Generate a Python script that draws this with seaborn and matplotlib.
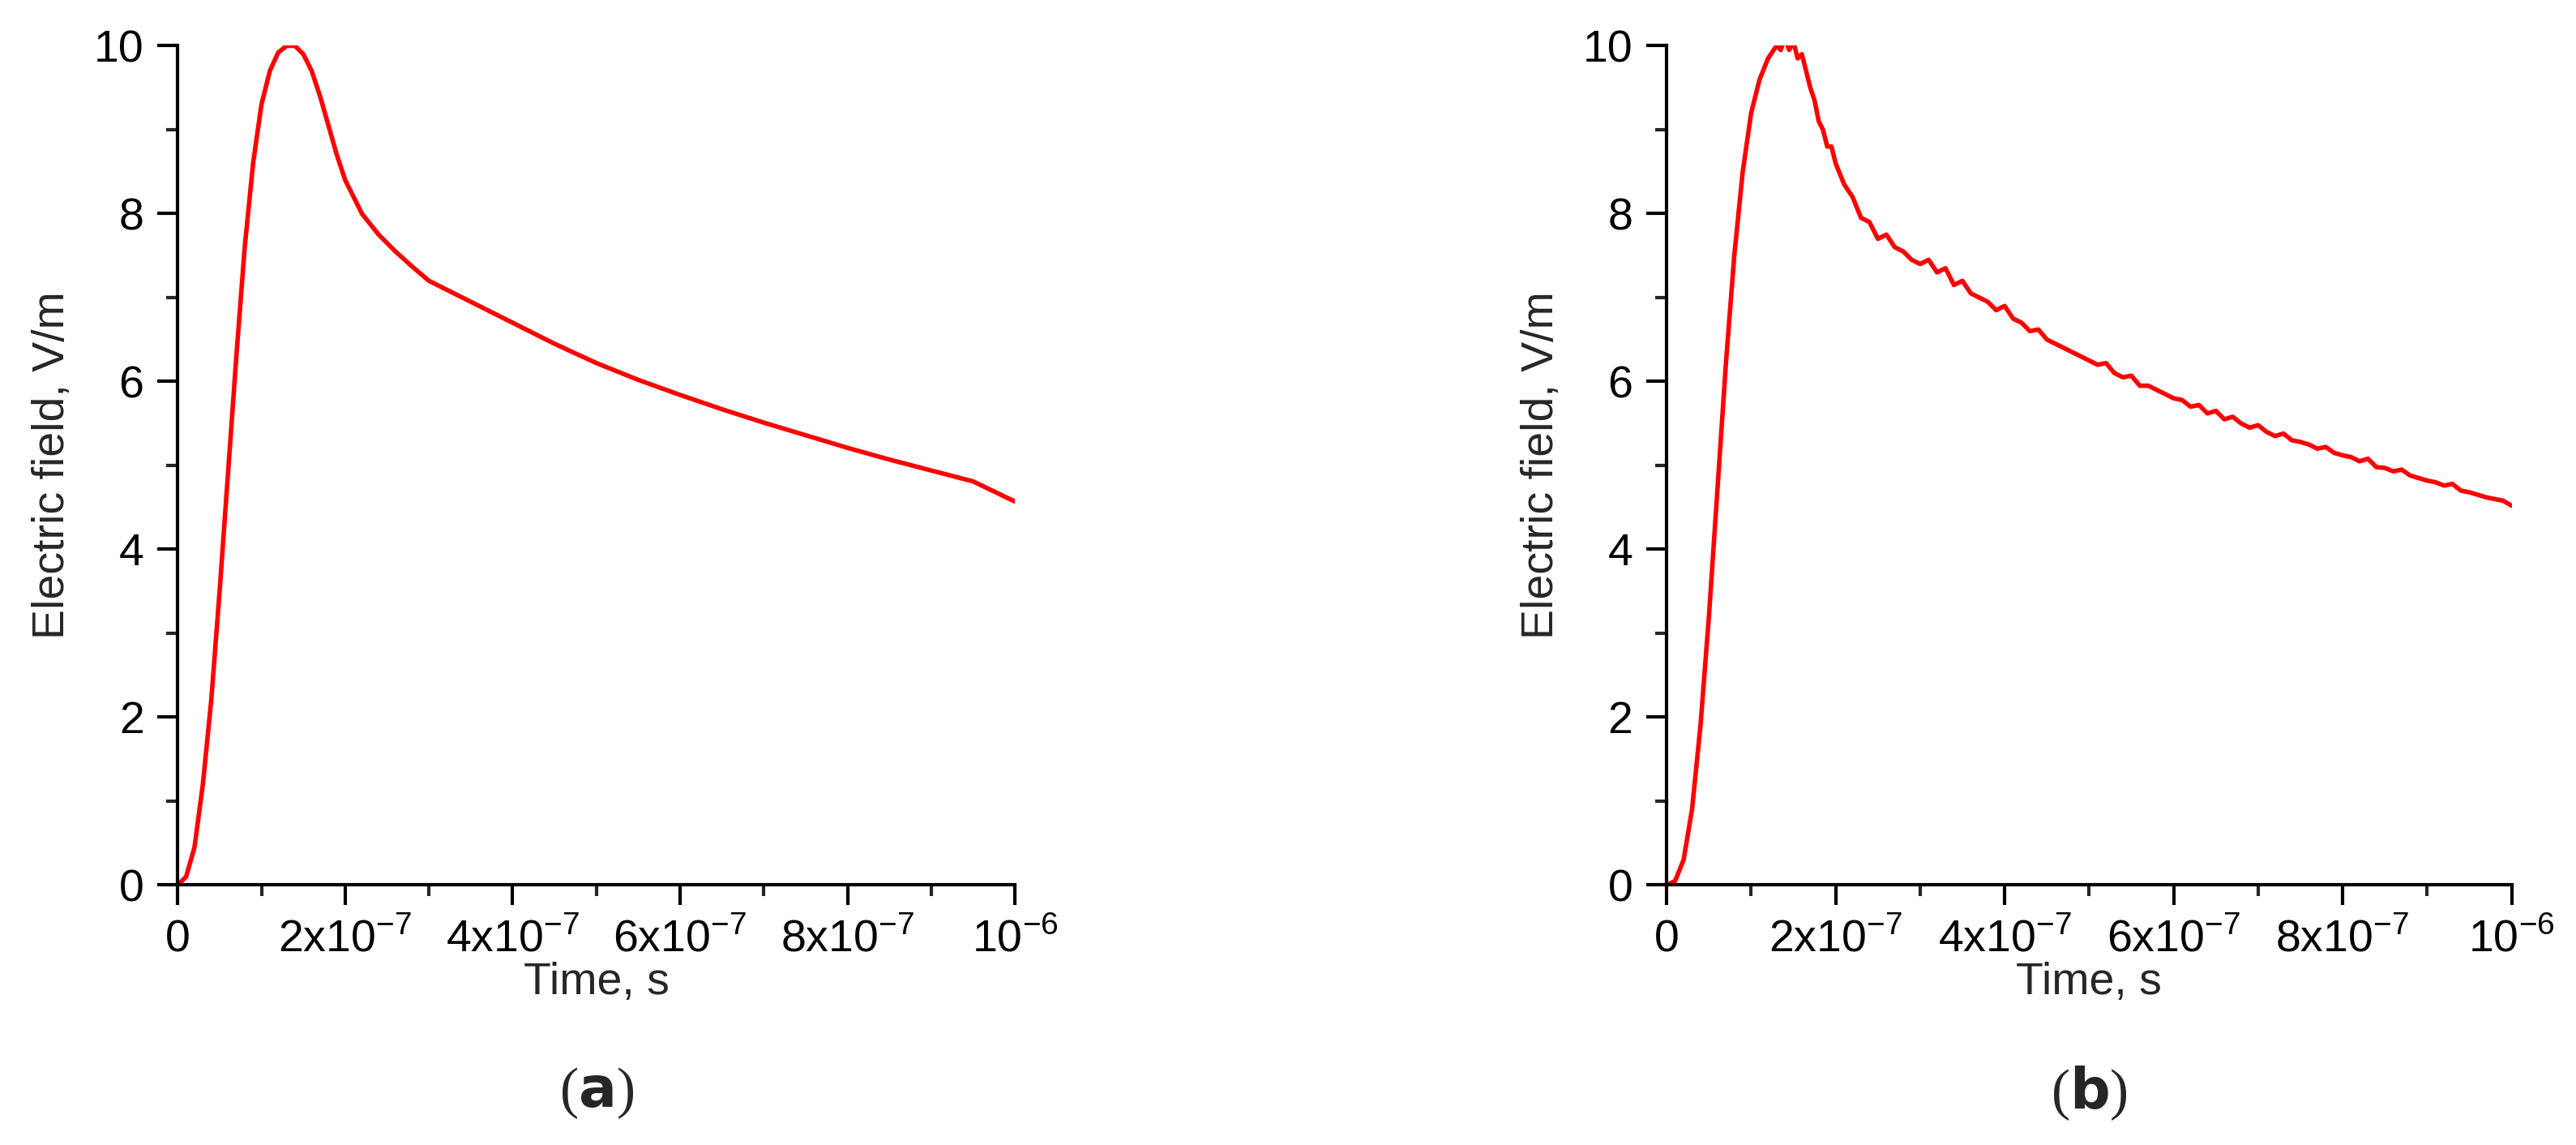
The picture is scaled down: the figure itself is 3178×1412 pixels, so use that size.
import numpy as np
import matplotlib
matplotlib.use("Agg")
import matplotlib.pyplot as plt
import seaborn as sns
from matplotlib.ticker import MultipleLocator, FixedLocator

sns.set_theme(style="white")
plt.rcParams["font.family"] = ["Liberation Sans", "DejaVu Sans"]
plt.rcParams["mathtext.fontset"] = "custom"
plt.rcParams["mathtext.rm"] = "Liberation Sans"
plt.rcParams["axes.unicode_minus"] = False

# panel (a): smooth field curve
time_a = [0, 0.1e-7, 0.2e-7, 0.3e-7, 0.4e-7, 0.5e-7, 0.6e-7, 0.7e-7, 0.8e-7, 0.9e-7,
          1.0e-7, 1.1e-7, 1.2e-7, 1.3e-7, 1.4e-7, 1.5e-7, 1.6e-7, 1.7e-7, 1.8e-7, 1.9e-7,
          2.0e-7, 2.2e-7, 2.4e-7, 2.6e-7, 2.8e-7, 3.0e-7, 3.5e-7, 4.0e-7, 4.5e-7, 5.0e-7,
          5.5e-7, 6.0e-7, 6.5e-7, 7.0e-7, 7.5e-7, 8.0e-7, 8.5e-7, 9.0e-7, 9.5e-7, 1.0e-6]
field_a = [0, 0.1, 0.45, 1.2, 2.2, 3.5, 4.9, 6.3, 7.6, 8.6,
           9.3, 9.7, 9.92, 10.0, 10.0, 9.9, 9.7, 9.4, 9.05, 8.7,
           8.4, 8.0, 7.75, 7.55, 7.37, 7.2, 6.95, 6.7, 6.45, 6.22,
           6.02, 5.84, 5.67, 5.51, 5.36, 5.21, 5.07, 4.94, 4.81, 4.57]

# panel (b): noisy measured curve
time_b = [0, 0.1e-7, 0.2e-7, 0.3e-7, 0.4e-7, 0.5e-7, 0.6e-7, 0.7e-7, 0.8e-7, 0.9e-7,
          1.0e-7, 1.1e-7, 1.2e-7, 1.3e-7, 1.35e-7, 1.4e-7, 1.45e-7, 1.5e-7, 1.55e-7, 1.6e-7,
          1.65e-7, 1.7e-7, 1.75e-7, 1.8e-7, 1.85e-7, 1.9e-7, 1.95e-7, 2.0e-7, 2.1e-7, 2.2e-7,
          2.3e-7, 2.4e-7, 2.5e-7, 2.6e-7, 2.7e-7, 2.8e-7, 2.9e-7, 3.0e-7, 3.1e-7, 3.2e-7,
          3.3e-7, 3.4e-7, 3.5e-7, 3.6e-7, 3.7e-7, 3.8e-7, 3.9e-7, 4.0e-7, 4.1e-7, 4.2e-7,
          4.3e-7, 4.4e-7, 4.5e-7, 4.6e-7, 4.7e-7, 4.8e-7, 4.9e-7, 5.0e-7, 5.1e-7, 5.2e-7,
          5.3e-7, 5.4e-7, 5.5e-7, 5.6e-7, 5.7e-7, 5.8e-7, 5.9e-7, 6.0e-7, 6.1e-7, 6.2e-7,
          6.3e-7, 6.4e-7, 6.5e-7, 6.6e-7, 6.7e-7, 6.8e-7, 6.9e-7, 7.0e-7, 7.1e-7, 7.2e-7,
          7.3e-7, 7.4e-7, 7.5e-7, 7.6e-7, 7.7e-7, 7.8e-7, 7.9e-7, 8.0e-7, 8.1e-7, 8.2e-7,
          8.3e-7, 8.4e-7, 8.5e-7, 8.6e-7, 8.7e-7, 8.8e-7, 8.9e-7, 9.0e-7, 9.1e-7, 9.2e-7,
          9.3e-7, 9.4e-7, 9.5e-7, 9.6e-7, 9.7e-7, 9.8e-7, 9.9e-7, 1.0e-6]
field_b = [0, 0.05, 0.3, 0.9, 1.9, 3.2, 4.7, 6.2, 7.5, 8.5,
           9.2, 9.6, 9.85, 10.0, 9.95, 10.1, 9.95, 10.05, 9.85, 9.9,
           9.7, 9.5, 9.35, 9.1, 9.0, 8.8, 8.8, 8.6, 8.35, 8.2,
           7.95, 7.9, 7.7, 7.75, 7.6, 7.55, 7.45, 7.4, 7.45, 7.3,
           7.35, 7.15, 7.2, 7.05, 7.0, 6.95, 6.85, 6.9, 6.75, 6.7,
           6.6, 6.62, 6.5, 6.45, 6.4, 6.35, 6.3, 6.25, 6.2, 6.22,
           6.1, 6.05, 6.07, 5.95, 5.95, 5.9, 5.85, 5.8, 5.78, 5.7,
           5.72, 5.62, 5.65, 5.55, 5.58, 5.5, 5.45, 5.48, 5.4, 5.35,
           5.38, 5.3, 5.28, 5.25, 5.2, 5.22, 5.15, 5.12, 5.1, 5.05,
           5.08, 4.98, 4.97, 4.93, 4.95, 4.88, 4.85, 4.82, 4.8, 4.76,
           4.78, 4.7, 4.68, 4.65, 4.62, 4.6, 4.58, 4.52]

xticks = [0, 2e-7, 4e-7, 6e-7, 8e-7, 1e-6]
xtick_labels = ["0", r"2x10$^{\mathregular{-7}}$", r"4x10$^{\mathregular{-7}}$",
                r"6x10$^{\mathregular{-7}}$", r"8x10$^{\mathregular{-7}}$", r"10$^{\mathregular{-6}}$"]
yticks = [0, 2, 4, 6, 8, 10]

fig = plt.figure(figsize=(31.78, 14.12), dpi=100)
ax_a = fig.add_axes([0.069, 0.227, 0.325, 0.733])
ax_b = fig.add_axes([0.647, 0.227, 0.328, 0.733])

for ax, t, e, tag in [(ax_a, time_a, field_a, "a"), (ax_b, time_b, field_b, "b")]:
    sns.lineplot(x=t, y=e, ax=ax, color="#ff0000", linewidth=4.0, sort=False)
    ax.set_xlim(0, 1e-6)
    ax.set_ylim(0, 10)
    ax.xaxis.set_major_locator(FixedLocator(xticks))
    ax.set_xticklabels(xtick_labels)
    ax.xaxis.set_minor_locator(MultipleLocator(1e-7))
    ax.set_yticks(yticks)
    ax.yaxis.set_minor_locator(MultipleLocator(1))
    ax.tick_params(which="major", direction="out", length=18, width=3, labelsize=40,
                   colors="black", bottom=True, left=True, pad=12)
    ax.tick_params(which="minor", direction="out", length=10, width=3, bottom=True, left=True)
    for side in ["top", "right"]:
        ax.spines[side].set_visible(False)
    for side in ["left", "bottom"]:
        ax.spines[side].set_linewidth(3)
        ax.spines[side].set_color("black")
    ax.set_xlabel("Time, s", fontsize=40, labelpad=0)
    ax.set_ylabel("Electric field, V/m", fontsize=40, labelpad=18)
    pos = ax.get_position()
    fig.text((pos.x0 + pos.x1) / 2, 0.045, "(" + r"$\mathbf{" + tag + "}$" + ")",
             ha="center", va="center", fontsize=50, family="Liberation Serif")

fig.savefig("out.png", dpi=100)
